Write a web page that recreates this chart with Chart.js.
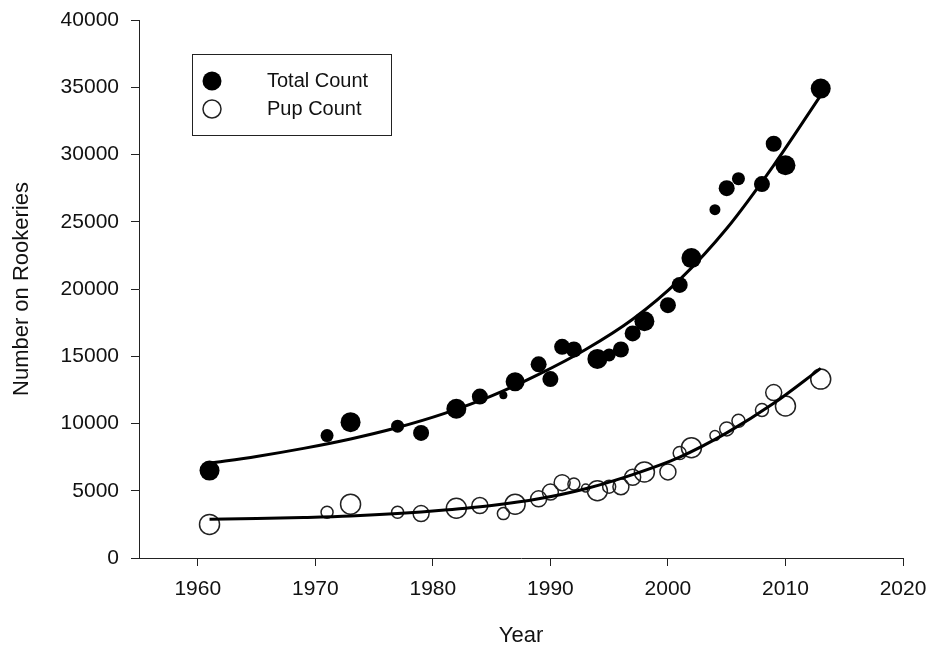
<!DOCTYPE html>
<html>
<head>
<meta charset="utf-8">
<title>Number on Rookeries</title>
<script src="https://cdn.jsdelivr.net/npm/chart.js@4.4.1/dist/chart.umd.min.js"></script>
<style>
  html, body { margin: 0; padding: 0; background: #fff; }
  #wrap { width: 931px; height: 651px; }
</style>
</head>
<body>
<div id="wrap"><canvas id="chart" width="931" height="651"></canvas></div>
<script>
// --- Survey counts ---
const TOTAL_YEARS = [1961, 1971, 1973, 1977, 1979, 1982, 1984, 1986, 1987, 1989, 1990, 1991, 1992, 1994,
  1995, 1996, 1997, 1998, 2000, 2001, 2002, 2004, 2005, 2006, 2008, 2009, 2010, 2013];
const TOTAL_COUNT = [6500, 9100, 10100, 9800, 9300, 11100, 12000, 12100, 13100, 14400, 13300, 15700, 15500, 14800,
  15100, 15500, 16700, 17600, 18800, 20300, 22300, 25900, 27500, 28200, 27800, 30800, 29200, 34900];

const PUP_YEARS = [1961, 1971, 1973, 1977, 1979, 1982, 1984, 1986, 1987, 1989, 1990, 1991, 1992, 1993, 1994,
  1995, 1996, 1997, 1998, 2000, 2001, 2002, 2004, 2005, 2006, 2008, 2009, 2010, 2013];
const PUP_COUNT = [2500, 3400, 4000, 3400, 3300, 3700, 3900, 3300, 4000, 4400, 4900, 5600, 5500, 5200, 5000,
  5300, 5300, 6000, 6400, 6400, 7800, 8200, 9100, 9600, 10200, 11000, 12300, 11300, 13300];

// --- Fitted curves ---
const FIT_YEARS = [1961, 1965, 1969, 1973, 1977, 1981, 1985, 1989, 1993, 1997, 2001, 2005, 2009, 2013];
const TOTAL_FIT = [7050, 7550, 8150, 8850, 9700, 10750, 12050, 13650, 15500, 17750, 20700, 24500, 29200, 34400];
const PUP_FIT = [2880, 2930, 3010, 3120, 3300, 3560, 3900, 4400, 5150, 6200, 7500, 9300, 11500, 14100];

// --- Axis ticks ---
const X_TICKS = [1960, 1970, 1980, 1990, 2000, 2010, 2020];
const Y_TICKS = [0, 5000, 10000, 15000, 20000, 25000, 30000, 35000, 40000];

// marker radii (symbol size varies per survey)
const TOTAL_R = [10, 6.5, 10, 6.5, 8, 10, 8, 4, 9.5, 8, 8, 8, 8, 10, 6.5, 8, 8, 10, 8, 8, 10, 5.5, 8, 6.5, 8, 8, 10, 10];
const PUP_R = [10, 6, 10, 6, 8, 10, 8, 6, 10, 8, 8, 8, 6, 4, 10, 6.5, 8, 8, 10, 8, 6.5, 10, 5, 7, 6.5, 6.5, 8, 10, 10];

const FONT = "'Liberation Sans', Arial, sans-serif";

function pairs(xs, ys) {
  return xs.map((x, i) => ({ x: x, y: ys[i] }));
}

// legend box drawn inside the plot area
const boxLegend = {
  id: 'boxLegend',
  afterDraw(chart) {
    const ctx = chart.ctx;
    const a = chart.chartArea;
    const x0 = a.left + 53, y0 = a.top + 34;
    ctx.save();
    ctx.strokeStyle = '#222';
    ctx.lineWidth = 1;
    ctx.strokeRect(x0 + 0.5, y0 + 0.5, 199, 81);

    ctx.fillStyle = '#000';
    ctx.beginPath();
    ctx.arc(x0 + 20, y0 + 27, 9.5, 0, Math.PI * 2);
    ctx.fill();

    ctx.strokeStyle = '#222';
    ctx.lineWidth = 1.5;
    ctx.beginPath();
    ctx.arc(x0 + 20, y0 + 55, 9, 0, Math.PI * 2);
    ctx.stroke();

    ctx.fillStyle = '#111';
    ctx.font = '20px ' + FONT;
    ctx.textBaseline = 'middle';
    ctx.fillText('Total Count', x0 + 75, y0 + 27);
    ctx.fillText('Pup Count', x0 + 75, y0 + 55);
    ctx.restore();
  }
};

new Chart(document.getElementById('chart'), {
  type: 'scatter',
  data: {
    datasets: [
      {
        label: 'Total Count fit',
        type: 'line',
        data: pairs(FIT_YEARS, TOTAL_FIT),
        borderColor: '#000',
        borderWidth: 3,
        pointRadius: 0,
        cubicInterpolationMode: 'monotone',
        fill: false,
        order: 0,
      },
      {
        label: 'Pup Count fit',
        type: 'line',
        data: pairs(FIT_YEARS, PUP_FIT),
        borderColor: '#000',
        borderWidth: 3,
        pointRadius: 0,
        cubicInterpolationMode: 'monotone',
        fill: false,
        order: 0,
      },
      {
        label: 'Total Count',
        data: pairs(TOTAL_YEARS, TOTAL_COUNT),
        backgroundColor: '#000',
        borderWidth: 0,
        pointRadius: TOTAL_R,
        order: 1,
      },
      {
        label: 'Pup Count',
        data: pairs(PUP_YEARS, PUP_COUNT),
        backgroundColor: 'rgba(0,0,0,0)',
        borderColor: '#222',
        borderWidth: 1.5,
        pointRadius: PUP_R,
        order: 1,
      },
    ],
  },
  options: {
    responsive: false,
    animation: false,
    layout: { padding: { top: 20, right: 28, bottom: 0, left: 0 } },
    plugins: {
      legend: { display: false },
      tooltip: { enabled: false },
    },
    scales: {
      x: {
        type: 'linear',
        min: 1955,
        max: 2020,
        afterBuildTicks: (scale) => { scale.ticks = X_TICKS.map(v => ({ value: v })); },
        afterFit: (scale) => {
          scale.height = 93;
          scale.paddingLeft = 0;
          scale.paddingRight = 0;
        },
        grid: { drawOnChartArea: false, drawTicks: true, tickLength: 8, color: '#222' },
        border: { display: true, color: '#222', width: 1 },
        ticks: {
          color: '#111',
          font: { family: FONT, size: 21 },
          padding: 11,
          maxRotation: 0,
          callback: (v) => String(v),
        },
        title: {
          display: true,
          text: 'Year',
          color: '#111',
          font: { family: FONT, size: 22 },
          padding: { top: 0, bottom: 2 },
        },
      },
      y: {
        type: 'linear',
        min: 0,
        max: 40000,
        afterBuildTicks: (scale) => { scale.ticks = Y_TICKS.map(v => ({ value: v })); },
        afterFit: (scale) => {
          scale.width = 139;
          scale.paddingTop = 0;
          scale.paddingBottom = 0;
        },
        grid: { drawOnChartArea: false, drawTicks: true, tickLength: 8, color: '#222' },
        border: { display: true, color: '#222', width: 1 },
        ticks: {
          color: '#111',
          font: { family: FONT, size: 21 },
          padding: 12,
          callback: (v) => String(v),
        },
        title: {
          display: true,
          text: 'Number on Rookeries',
          color: '#111',
          font: { family: FONT, size: 22 },
          padding: { top: 9, bottom: 0 },
        },
      },
    },
  },
  plugins: [boxLegend],
});
</script>
</body>
</html>
